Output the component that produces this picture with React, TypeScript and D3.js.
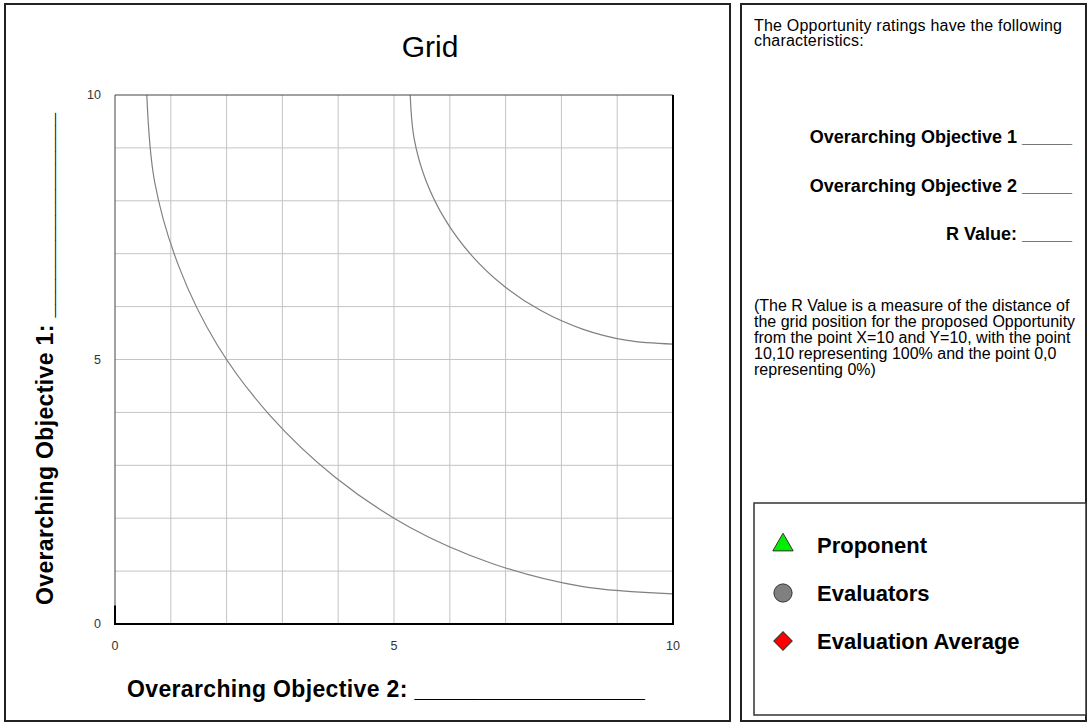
import React from "react";
import * as d3 from "d3";

// ---- data ----
const xTickValues = [0, 5, 10];
const yTickValues = [0, 5, 10];
const gridValues = [1, 2, 3, 4, 5, 6, 7, 8, 9];

// iso-R contour lines (data coordinates)
const innerContourX = [0.57, 0.71, 1.14, 1.83, 2.78, 3.94, 5.28, 6.77, 8.36, 10];
const innerContourY = [10, 8.36, 6.77, 5.28, 3.94, 2.78, 1.83, 1.14, 0.71, 0.57];
const outerContourX = [5.29, 5.36, 5.57, 5.92, 6.39, 6.97, 7.64, 8.39, 9.18, 10];
const outerContourY = [10, 9.18, 8.39, 7.64, 6.97, 6.39, 5.92, 5.57, 5.36, 5.29];

const chartTitle = "Grid";
const xAxisTitle = "Overarching Objective 2: ";
const xAxisBlank = "__________________";
const yAxisTitle = "Overarching Objective 1: ";
const yAxisBlank = "________________";

const introLines = ["The Opportunity ratings have the following", "characteristics:"];
const ratingLines = ["Overarching Objective 1 _____", "Overarching Objective 2 _____", "R Value: _____"];
const noteLines = [
  "(The R Value is a measure of the distance of",
  "the grid position for the proposed Opportunity",
  "from the point X=10 and Y=10, with the point",
  "10,10 representing 100% and the point 0,0",
  "representing 0%)",
];
const legendLabels = ["Proponent", "Evaluators", "Evaluation Average"];
const legendShapes = ["triangle", "circle", "diamond"];
const legendColors = ["#00ee00", "#808080", "#ff0000"];

// ---- layout ----
const W = 1089;
const H = 725;
const plot = { left: 115, right: 673, top: 95, bottom: 624 };

export default function App() {
  const x = d3.scaleLinear().domain([0, 10]).range([plot.left, plot.right]);
  const y = d3.scaleLinear().domain([0, 10]).range([plot.bottom, plot.top]);

  const line = d3
    .line<[number, number]>()
    .x((d) => x(d[0]))
    .y((d) => y(d[1]))
    .curve(d3.curveCatmullRom.alpha(0.5));

  const inner = innerContourX.map((v, i) => [v, innerContourY[i]] as [number, number]);
  const outer = outerContourX.map((v, i) => [v, outerContourY[i]] as [number, number]);

  const sym = (shape: string) => {
    const t =
      shape === "triangle" ? d3.symbolTriangle : shape === "circle" ? d3.symbolCircle : d3.symbolSquare;
    const size = shape === "triangle" ? 180 : shape === "circle" ? 260 : 170;
    return d3.symbol().type(t).size(size)() as string;
  };

  const font = "'Liberation Sans', Arial, sans-serif";

  return (
    <svg
      width={W}
      height={H}
      style={{ position: "absolute", left: 0, top: 0, background: "#fff" }}
      fontFamily={font}
    >
      {/* panels */}
      <rect x={5} y={4} width={725} height={717} fill="#fff" stroke="#222" strokeWidth={2} />
      <rect x={741} y={4} width={345} height={717} fill="#fff" stroke="#222" strokeWidth={2} />

      {/* title */}
      <text x={430} y={57} fontSize={30} textAnchor="middle" fill="#000">
        {chartTitle}
      </text>

      {/* grid */}
      <g stroke="#c4c4c4" strokeWidth={1}>
        {gridValues.map((g) => (
          <line key={"v" + g} x1={x(g)} x2={x(g)} y1={plot.top} y2={plot.bottom} />
        ))}
        {gridValues.map((g) => (
          <line key={"h" + g} x1={plot.left} x2={plot.right} y1={y(g)} y2={y(g)} />
        ))}
      </g>

      {/* contours */}
      <path d={line(inner) as string} fill="none" stroke="#808080" strokeWidth={1.2} />
      <path d={line(outer) as string} fill="none" stroke="#808080" strokeWidth={1.2} />

      {/* frame */}
      <line x1={plot.left} x2={plot.right} y1={plot.top} y2={plot.top} stroke="#444" strokeWidth={1} />
      <line x1={plot.left} x2={plot.left} y1={plot.top} y2={plot.bottom} stroke="#444" strokeWidth={1} />
      <line x1={plot.right} x2={plot.right} y1={plot.top} y2={plot.bottom + 1} stroke="#000" strokeWidth={2} />
      <line x1={plot.left} x2={plot.right + 1} y1={plot.bottom} y2={plot.bottom} stroke="#000" strokeWidth={2} />
      <path
        d={`M${x(0)},${y(0.35)}V${y(0)}H${x(0.47)}`}
        fill="none"
        stroke="#000"
        strokeWidth={2}
      />

      {/* tick labels */}
      <g fontSize={12.5} fill="#333">
        {yTickValues.map((t) => (
          <text key={"yt" + t} x={101} y={y(t)} dy="0.35em" textAnchor="end">
            {t}
          </text>
        ))}
        {xTickValues.map((t) => (
          <text key={"xt" + t} x={x(t)} y={646} dy="0.35em" textAnchor="middle">
            {t}
          </text>
        ))}
      </g>

      {/* axis titles */}
      <text x={127} y={697} fontSize={23} fontWeight="bold" fill="#000" style={{ whiteSpace: "pre" }}>
        <tspan letterSpacing={0.35}>{xAxisTitle}</tspan>
        <tspan letterSpacing={0}>{xAxisBlank}</tspan>
      </text>
      <text
        transform="translate(53,605) rotate(-90)"
        x={0}
        y={0}
        fontSize={23}
        fontWeight="bold"
        fill="#000"
        style={{ whiteSpace: "pre" }}
      >
        <tspan letterSpacing={0.35}>{yAxisTitle}</tspan>
        <tspan letterSpacing={0}>{yAxisBlank}</tspan>
      </text>

      {/* right panel text */}
      <g fontSize={16} fill="#000">
        {introLines.map((l, i) => (
          <text key={"i" + i} x={754} y={31 + i * 15} letterSpacing={0.2}>
            {l}
          </text>
        ))}
        {noteLines.map((l, i) => (
          <text key={"n" + i} x={754} y={311 + i * 16}>
            {l}
          </text>
        ))}
      </g>
      <g fontSize={18} fontWeight="bold" fill="#000">
        {ratingLines.map((l, i) => (
          <text key={"r" + i} x={1072} y={143 + i * 48.5} textAnchor="end">
            {l}
          </text>
        ))}
      </g>

      {/* legend */}
      <rect x={754} y={503} width={332} height={212} fill="#fff" stroke="#333" strokeWidth={1.5} />
      {legendLabels.map((l, i) => (
        <g key={"lg" + i}>
          <path
            d={sym(legendShapes[i])}
            transform={`translate(783,${545 + i * 48})${legendShapes[i] === "diamond" ? " rotate(45)" : ""}`}
            fill={legendColors[i]}
            stroke="#333"
            strokeWidth={1}
          />
          <text x={817} y={553 + i * 48} fontSize={22} fontWeight="bold" fill="#000">
            {l}
          </text>
        </g>
      ))}
    </svg>
  );
}
